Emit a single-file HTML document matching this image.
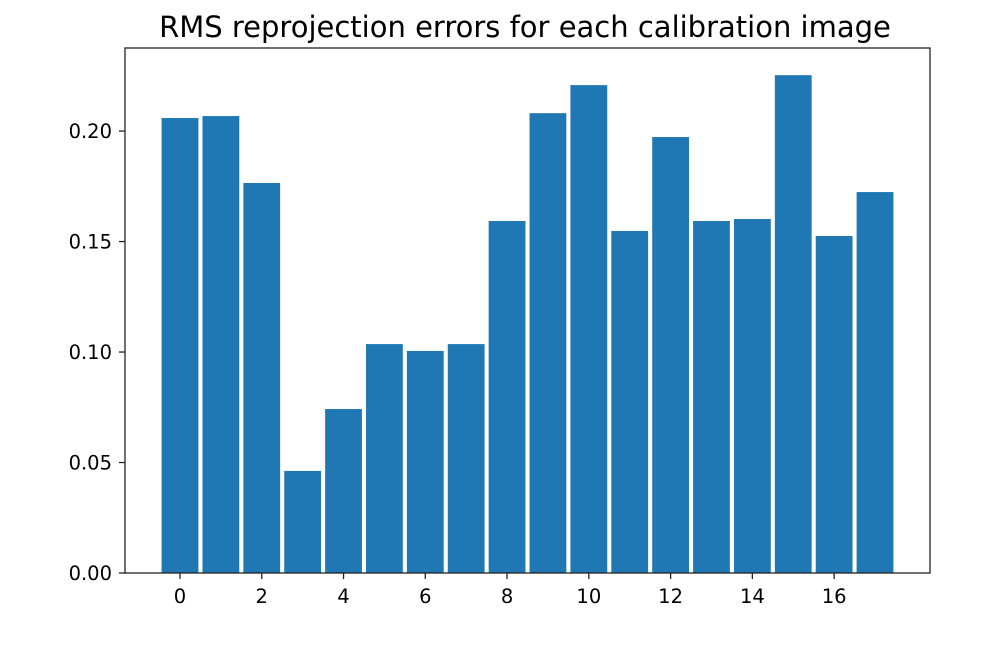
<!DOCTYPE html>
<html><head><meta charset="utf-8"><style>
html,body{margin:0;padding:0;background:#fff;width:1006px;height:650px;overflow:hidden}
svg text{font-family:"DejaVu Sans","Liberation Sans",sans-serif;fill:#000}
</style></head><body>
<svg id="chart" width="1006" height="650">
<text x="525" y="37" text-anchor="middle" font-size="29" fill="#222">RMS reprojection errors for each calibration image</text>
<g id="bars"></g>
<g id="axes"></g>
</svg>
<script>
const categories=[0,1,2,3,4,5,6,7,8,9,10,11,12,13,14,15,16,17];
const errors=[0.2059,0.2068,0.1765,0.0462,0.0742,0.1036,0.1005,0.1036,0.1593,0.2081,0.2208,0.1548,0.1973,0.1593,0.1602,0.2253,0.1525,0.1724];
const yTicks=[0,0.05,0.10,0.15,0.20];
const yTickLabels=["0.00","0.05","0.10","0.15","0.20"];
const xTicks=[0,2,4,6,8,10,12,14,16];

const L=125,R=930,T=48,B=573;
const xmin=-1.345,xmax=18.345,ymax=0.2376;
const sx=v=>L+(v-xmin)/(xmax-xmin)*(R-L);
const sy=v=>B-v/ymax*(B-T);
const NS="http://www.w3.org/2000/svg";
const bars=document.getElementById('bars'),axes=document.getElementById('axes');
function mk(tag,attrs,parent){const e=document.createElementNS(NS,tag);for(const k in attrs)e.setAttribute(k,attrs[k]);parent.appendChild(e);return e;}
categories.forEach((c,i)=>{
  const x0=sx(c-0.45),x1=sx(c+0.45);
  const r=mk('rect',{x:x0,y:sy(errors[i]),width:x1-x0,height:B-sy(errors[i]),fill:'#1f77b4'},bars);
  
  
});
const fr=mk('rect',{x:L,y:T,width:R-L,height:B-T,fill:'none',stroke:'#222','stroke-width':1.3},axes);


yTicks.forEach((v,i)=>{
  const y=sy(v);
  mk('line',{x1:L-6,x2:L,y1:y,y2:y,stroke:'#222','stroke-width':1.3},axes);
  const t=mk('text',{x:L-13,y:y+7,'text-anchor':'end','font-size':19.5,fill:'#222'},axes);
  t.textContent=yTickLabels[i];
  
  
});
xTicks.forEach(v=>{
  const x=sx(v);
  mk('line',{x1:x,x2:x,y1:B,y2:B+6,stroke:'#222','stroke-width':1.3},axes);
  const t=mk('text',{x:x,y:B+30,'text-anchor':'middle','font-size':19.5,fill:'#222'},axes);
  t.textContent=String(v);
  
  
});
</script>
</body></html>
